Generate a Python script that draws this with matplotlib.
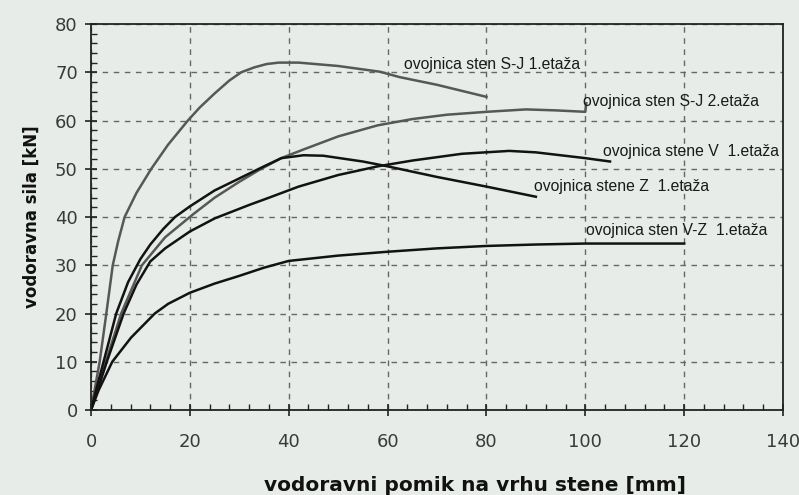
import numpy as np
import matplotlib
matplotlib.use("Agg")
from matplotlib import pyplot as plt
from matplotlib.ticker import MultipleLocator

# envelopes: displacement [mm], force [kN]
sj1_x = [0, 1.75, 3.1, 4.4, 5.5, 6.8, 9.2, 12.2, 15.6, 19.6, 22, 25, 28, 30.4, 33, 35.5, 38, 42, 50, 58.5, 62.4, 70, 80]
sj1_y = [0, 10, 20, 30, 35, 40, 45, 50, 55, 60, 62.7, 65.6, 68.3, 70, 71, 71.7, 72, 72, 71.3, 70.1, 69.0, 67.4, 64.9]

sj2_x = [0, 3, 6.1, 10.3, 15, 20.7, 25, 30, 34.1, 38.5, 43, 50, 58, 65, 72, 80, 88, 94, 100, 100.2]
sj2_y = [0, 10, 20, 30, 35.8, 40.6, 44, 47.3, 49.8, 52.2, 54.0, 56.7, 59.0, 60.3, 61.2, 61.8, 62.3, 62.1, 61.8, 63.6]

v_x = [0, 3.2, 6.6, 9.2, 12, 15, 20, 25, 32, 36, 42, 50, 58, 65, 75, 84.6, 90, 100, 105]
v_y = [0, 10, 20, 26, 30.8, 33.5, 37, 39.7, 42.5, 44, 46.3, 48.7, 50.5, 51.7, 53.1, 53.7, 53.4, 52.2, 51.5]

z_x = [0, 1.5, 2.8, 5.1, 7.5, 10, 12, 14.6, 17, 20, 25, 30, 35, 38.5, 43, 47, 55, 60, 70, 80, 90]
z_y = [0, 6, 11, 20, 26.5, 31.3, 34.3, 37.5, 40, 42.2, 45.5, 48, 50.5, 52.2, 52.8, 52.7, 51.5, 50.5, 48.3, 46.3, 44.2]

vz_x = [0, 1.5, 4.3, 8.1, 12.9, 15.6, 20, 25, 30, 35, 40, 50, 60, 70, 80, 90, 100, 110, 120]
vz_y = [0, 4, 10, 15, 20, 22, 24.3, 26.2, 27.8, 29.5, 30.9, 32.0, 32.8, 33.5, 34.0, 34.3, 34.5, 34.5, 34.5]

labels = ["ovojnica sten S-J 1.etaža", "ovojnica sten S-J 2.etaža",
          "ovojnica stene V  1.etaža", "ovojnica stene Z  1.etaža",
          "ovojnica sten V-Z  1.etaža"]
label_xy = [(63.4, 71.6), (99.6, 63.9), (103.6, 53.5), (89.7, 46.3), (100.2, 37.2)]

bg = "#e7ece9"
fig = plt.figure(figsize=(7.99, 4.95), dpi=100, facecolor=bg)
ax = fig.add_axes([0.1139, 0.1717, 0.98 - 0.1139, 0.9515 - 0.1717])
ax.set_facecolor(bg)

gray = "#575757"
black = "#121212"
ax.plot(sj1_x, sj1_y, color=gray, lw=1.8)
ax.plot(sj2_x, sj2_y, color=gray, lw=1.8)
ax.plot(v_x, v_y, color=black, lw=1.8)
ax.plot(z_x, z_y, color=black, lw=1.8)
ax.plot(vz_x, vz_y, color=black, lw=1.8)

for lab, (lx, ly) in zip(labels, label_xy):
    ax.text(lx, ly, lab, fontsize=11.3, family="Liberation Sans", color="#1a1a1a",
            va="center", ha="left")

ax.set_xlim(0, 140)
ax.set_ylim(0, 80)
ax.xaxis.set_major_locator(MultipleLocator(20))
ax.xaxis.set_minor_locator(MultipleLocator(4))
ax.yaxis.set_major_locator(MultipleLocator(10))
ax.yaxis.set_minor_locator(MultipleLocator(2))
ax.tick_params(which="major", direction="inout", length=9, width=1.2, colors="#222222",
               labelsize=13, labelcolor="#3a3a3a")
ax.tick_params(which="minor", direction="in", length=4, width=1, colors="#222222")
ax.tick_params(axis="x", pad=12)
ax.tick_params(axis="y", pad=5)
ax.grid(which="major", color="#666666", ls=(0, (4, 4)), lw=1)
for s in ax.spines.values():
    s.set_color("#222222")
    s.set_linewidth(1.3)

ax.set_xlabel("vodoravni pomik na vrhu stene [mm]", fontsize=14.5, fontweight="bold",
              color="#111111", labelpad=18)
ax.xaxis.set_label_coords(0.555, -0.17)
ax.set_ylabel("vodoravna sila [kN]", fontsize=12, fontweight="bold",
              color="#111111", labelpad=10)

fig.savefig("out.png", dpi=100, facecolor=bg)
